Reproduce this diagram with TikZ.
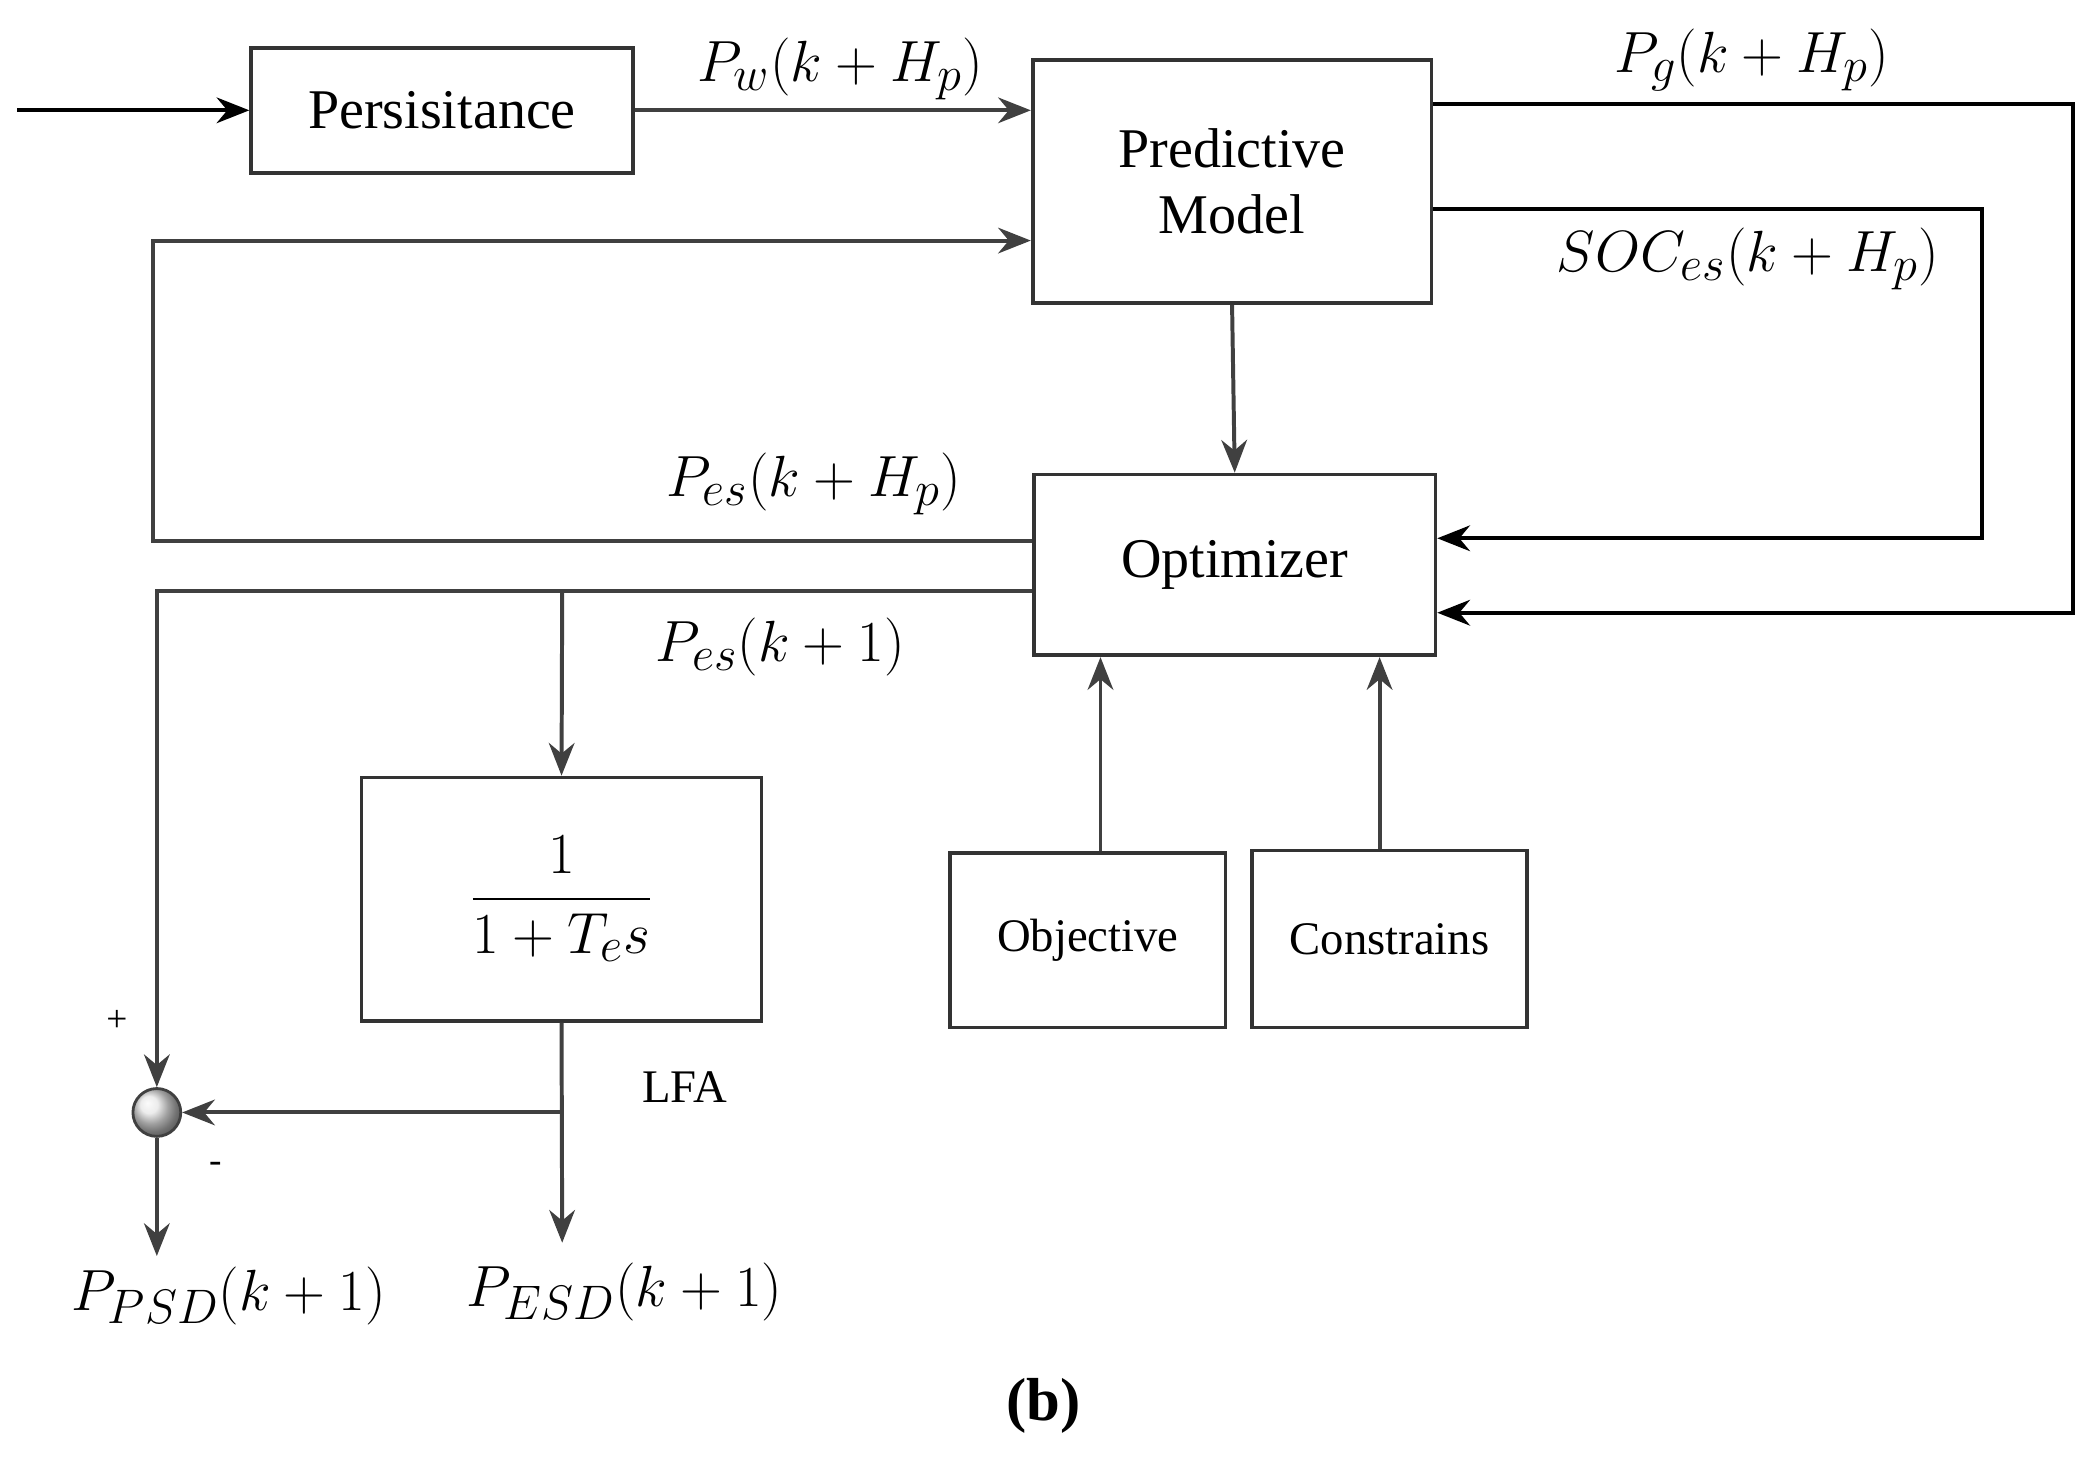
\documentclass[tikz,border=0pt]{standalone}
\usepackage{amsmath}
\usepackage{fontspec}
\setmainfont{Liberation Serif}
\usetikzlibrary{arrows.meta}
\begin{document}
\begin{tikzpicture}[x=0.02cm,y=-0.02cm,
 blk/.style={draw=black!80,line width=1.6pt,inner sep=0},
 ln/.style={draw=black!75,line width=1.7pt},
 bl/.style={draw=black,line width=1.7pt},
 arr/.style={-{Stealth[length=14pt,width=11pt]}},
 t/.style={font=\fontsize{24}{28}\selectfont},
 m/.style={font=\fontsize{28}{32}\selectfont}]
\useasboundingbox (0,0) rectangle (1568,1096);
\node[blk,minimum width=287*0.02cm,minimum height=94*0.02cm,t] (pers) at (332.5,83) {Persisitance};
\node[blk,minimum width=300*0.02cm,minimum height=183*0.02cm,t,align=center] (pm) at (927,136.5) {Predictive\\Model};
\node[blk,minimum width=302*0.02cm,minimum height=136*0.02cm,t] (opt) at (929,425) {Optimizer};
\node[blk,minimum width=301*0.02cm,minimum height=183*0.02cm,m] (lfa) at (422.5,676.5) {$\dfrac{1}{1+T_e s}$};
\node[blk,minimum width=207*0.02cm,minimum height=131*0.02cm,font=\fontsize{20}{24}\selectfont] (obj) at (818.5,707.5) {Objective};
\node[blk,minimum width=207*0.02cm,minimum height=133*0.02cm,font=\fontsize{20}{24}\selectfont] (con) at (1045.5,706.5) {Constrains};
\node[circle,draw=black!75,line width=1.2pt,minimum size=36*0.02cm,inner sep=0,ball color=white!80!gray,shading=ball] (sum) at (118,837) {};
\coordinate (in) at (13,83);
\coordinate (j1) at (423,445);
\coordinate (j2) at (423,837);
\coordinate (o1) at (118,945);
\coordinate (o2) at (423,935);
% connectors
\draw[bl,arr] (in) -- (pers.west);
\draw[ln,arr] (pers.east) -- (pm.west|-pers.east);
\draw[bl,arr] (pm.east|-0,78) -- (1560,78) -- (1560,461) -- (opt.east|-0,461);
\draw[bl,arr] (pm.east|-0,157) -- (1491,157) -- (1491,405) -- (opt.east|-0,405);
\draw[ln,arr] (pm.south) -- (opt.north);
\draw[ln,arr] (opt.west|-0,407) -- (115,407) -- (115,181) -- (pm.west|-0,181);
\draw[ln,arr] (opt.west|-0,445) -- (118,445) -- (sum.north);
\draw[ln,arr] (j1) -- (lfa.north);
\draw[ln,arr] (lfa.south) -- (o2);
\draw[ln,arr] (j2) -- (sum.east);
\draw[ln,arr] (sum.south) -- (o1);
\draw[ln,arr] (obj.north-|828,0) -- (opt.south-|828,0);
\draw[ln,arr] (con.north-|1038,0) -- (opt.south-|1038,0);
% labels
\node[m] at (632,52) {$P_w(k+H_p)$};
\node[m] at (1318,45) {$P_g(k+H_p)$};
\node[m] at (1315,195) {$SOC_{es}(k+H_p)$};
\node[m] at (612,364) {$P_{es}(k+H_p)$};
\node[m] at (587,487) {$P_{es}(k+1)$};
\node[m] at (172,975) {$P_{PSD}(k+1)$};
\node[m] at (470,972) {$P_{ESD}(k+1)$};
\node[font=\fontsize{20}{24}\selectfont] at (515,818) {LFA};
\node[font=\fontsize{16}{20}\selectfont] at (88,768) {+};
\node[font=\fontsize{16}{20}\selectfont] at (162,878) {-};
\node[font=\fontsize{26}{30}\selectfont\bfseries] at (785,1058) {(b)};
\end{tikzpicture}
\end{document}
